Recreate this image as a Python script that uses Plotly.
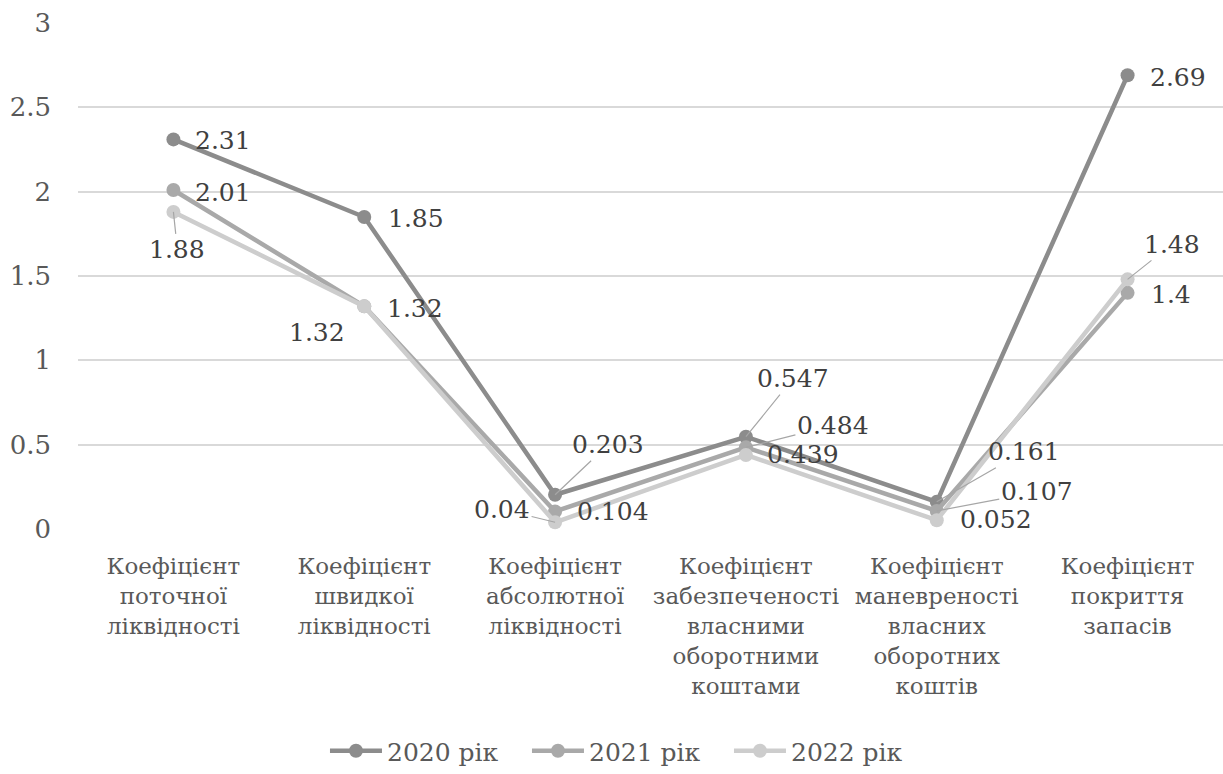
import plotly.graph_objects as go

categories = [
    "Коефіцієнт<br>поточної<br>ліквідності",
    "Коефіцієнт<br>швидкої<br>ліквідності",
    "Коефіцієнт<br>абсолютної<br>ліквідності",
    "Коефіцієнт<br>забезпеченості<br>власними<br>оборотними<br>коштами",
    "Коефіцієнт<br>маневреності<br>власних<br>оборотних<br>коштів",
    "Коефіцієнт<br>покриття<br>запасів",
]
series_names = ["2020 рік", "2021 рік", "2022 рік"]
v2020 = [2.31, 1.85, 0.203, 0.547, 0.161, 2.69]
v2021 = [2.01, 1.32, 0.104, 0.484, 0.107, 1.4]
v2022 = [1.88, 1.32, 0.04, 0.439, 0.052, 1.48]
y_ticks = [0, 0.5, 1, 1.5, 2, 2.5, 3]
y_tick_text = ["0", "0.5", "1", "1.5", "2", "2.5", "3"]

colors = ["#8c8c8c", "#a9a9a9", "#cdcdcd"]
FONT = "DejaVu Serif"

# label offsets (pixels) and whether a leader line is shown
label_pos = [
    [(50, 1, False), (52, 2, False), (53, -50, True), (47, -58, True), (87, -50, True), (50, 2, False)],
    [(50, 3, False), (51, 2, False), (58, 0, False), (87, -22, True), (100, -19, True), (43, 2, False)],
    [(4, 38, True), (-47, 26, False), (-53, -13, True), (57, 0, False), (59, -1, False), (44, -35, True)],
]

fig = go.Figure()
all_vals = [v2020, v2021, v2022]
for name, vals, col in zip(series_names, all_vals, colors):
    fig.add_trace(go.Scatter(
        x=categories, y=vals, name=name, mode="lines+markers",
        line=dict(color=col, width=4.5),
        marker=dict(color=col, size=14),
        cliponaxis=False,
    ))

annotations = []
for vals, pos in zip(all_vals, label_pos):
    for cat, v, (ax, ay, lead) in zip(categories, vals, pos):
        annotations.append(dict(
            x=cat, y=v, xref="x", yref="y", text=str(v),
            showarrow=True, ax=ax, ay=ay, axref="pixel", ayref="pixel",
            arrowhead=0, arrowwidth=1.2,
            arrowcolor="#a6a6a6" if lead else "rgba(0,0,0,0)",
            standoff=0, startstandoff=0,
            font=dict(family=FONT, size=25, color="#404040"),
        ))

fig.update_layout(
    width=1223, height=774,
    margin=dict(l=78, r=0, t=23, b=239),
    paper_bgcolor="white", plot_bgcolor="white",
    font=dict(family=FONT, color="#595959"),
    showlegend=True,
    legend=dict(
        orientation="h", x=0.2157, xanchor="left", y=-0.44, yanchor="middle",
        font=dict(family=FONT, size=25, color="#595959"),
        itemwidth=52, tracegroupgap=0, entrywidth=135, entrywidthmode="pixels",
    ),
    annotations=annotations,
)
fig.update_xaxes(
    type="category", range=[-0.5, 5.5], showgrid=False, zeroline=False,
    showline=False, ticks="", tickfont=dict(family=FONT, size=23, color="#595959"),
    ticklabelstandoff=21,
)
fig.update_yaxes(
    range=[0, 3], tickvals=y_ticks, ticktext=y_tick_text,
    showgrid=True, gridcolor="#d9d9d9", gridwidth=1.5, zeroline=False,
    showline=False, ticks="", tickfont=dict(family=FONT, size=26, color="#595959"),
    ticklabelstandoff=26,
)

fig.write_html("out.html")
